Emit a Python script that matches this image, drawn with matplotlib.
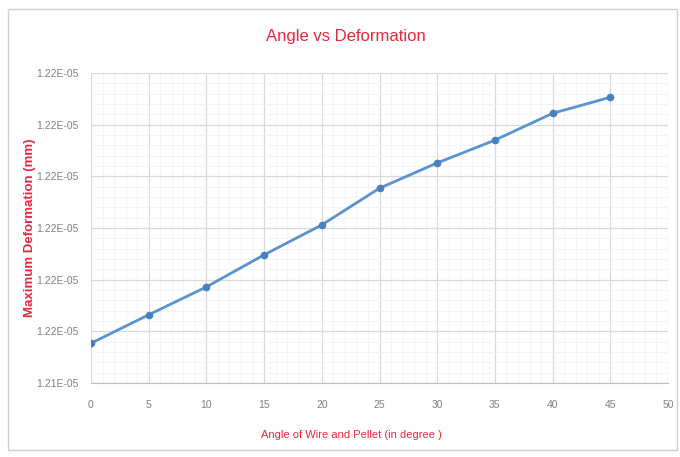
import matplotlib
matplotlib.use("Agg")
import matplotlib.pyplot as plt
from matplotlib.patches import Rectangle
from matplotlib.ticker import MultipleLocator

plt.rcParams['font.family'] = ['Liberation Sans', 'DejaVu Sans']

# angle of wire and pellet (degree) vs maximum deformation (mm)
angles = [0, 5, 10, 15, 20, 25, 30, 35, 40, 45]
deformation = [1.214977e-05, 1.215032e-05, 1.215086e-05, 1.215148e-05, 1.215206e-05,
               1.215277e-05, 1.215326e-05, 1.215370e-05, 1.215422e-05, 1.215453e-05]

x_ticks = [0, 5, 10, 15, 20, 25, 30, 35, 40, 45, 50]
y_ticks = [1.2149e-05, 1.2150e-05, 1.2151e-05, 1.2152e-05, 1.2153e-05, 1.2154e-05, 1.2155e-05]
y_tick_labels = ["1.21E-05", "1.22E-05", "1.22E-05", "1.22E-05", "1.22E-05", "1.22E-05", "1.22E-05"]

RED = "#e8283c"
GRID = "#d9d9d9"

W, H = 680, 457
fig = plt.figure(figsize=(W / 100, H / 100), dpi=100)
ax = fig.add_axes([91 / W, 1 - 383 / H, (668 - 91) / W, (383 - 73) / H])

# chart border
fig.patches.append(Rectangle((8 / W, 1 - 450 / H), (677 - 8) / W, (450 - 9) / H,
                             transform=fig.transFigure, fill=False,
                             edgecolor="#d0d0d0", linewidth=1))

ax.plot(angles, deformation, color="#5b93cf", linewidth=2, marker="o",
        markersize=4.5, markerfacecolor="#4a80bd", markeredgecolor="#4a80bd", zorder=3)

ax.set_xlim(0, 50)
ax.set_ylim(y_ticks[0], y_ticks[-1])
ax.set_xticks(x_ticks)
ax.set_xticklabels([str(t) for t in x_ticks])
ax.set_yticks(y_ticks)
ax.set_yticklabels(y_tick_labels)
ax.xaxis.set_minor_locator(MultipleLocator(1))
ax.set_yticks([y_ticks[0] + i * 0.2e-9 for i in range(31)], minor=True)

ax.grid(which="major", color=GRID, linewidth=0.9)
ax.grid(which="minor", color="#f2f2f2", linewidth=0.6)
ax.set_axisbelow(True)

for side in ["top", "right", "left"]:
    ax.spines[side].set_visible(False)
ax.spines["bottom"].set_color("#bfbfbf")

ax.tick_params(which="both", length=0)
ax.tick_params(axis="both", labelsize=7.5, labelcolor="#808080")
ax.tick_params(axis="x", pad=12)
ax.tick_params(axis="y", pad=9)

fig.text(346 / W, 1 - 37 / H, "Angle vs Deformation", ha="center", va="center",
         fontsize=12, color=RED)
fig.text(351 / W, 1 - 435 / H, "Angle of Wire and Pellet (in degree )", ha="center",
         va="center", fontsize=8, color=RED)
fig.text(30 / W, 1 - 228 / H, "Maximum Deformation (mm)", ha="center", va="center",
         rotation=90, fontsize=9.5, color=RED, fontweight="bold")

fig.savefig("out.png", dpi=100)
